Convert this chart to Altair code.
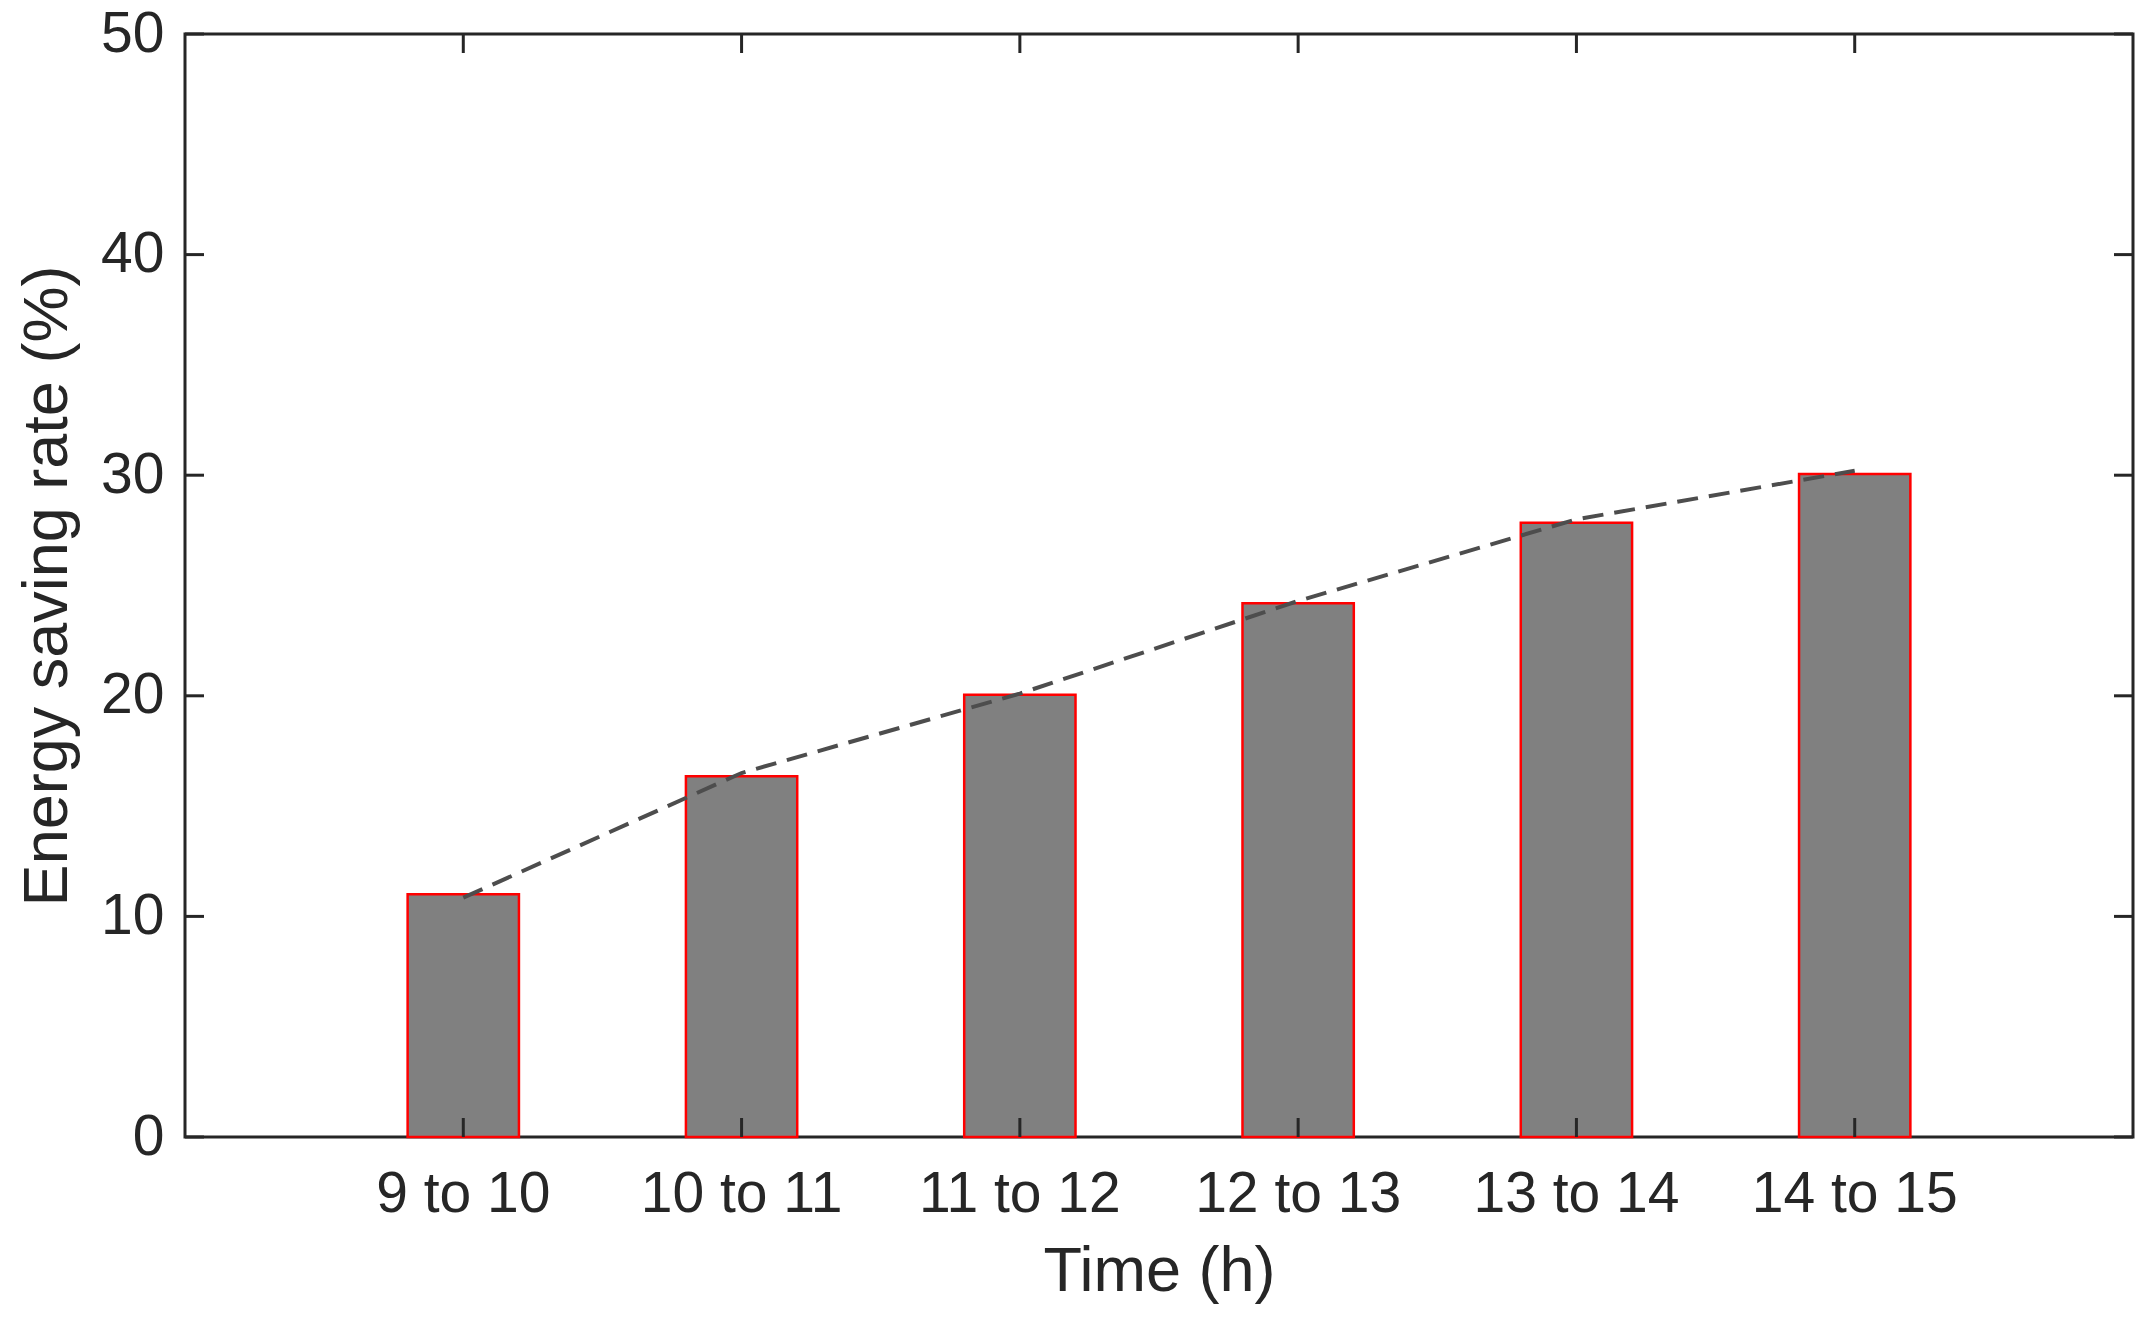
import altair as alt
import pandas as pd

# ---- data ----
times = ["9 to 10", "10 to 11", "11 to 12", "12 to 13", "13 to 14", "14 to 15"]
bar_values = [11.0, 16.35, 20.05, 24.2, 27.85, 30.05]
line_values = [10.85, 16.5, 20.1, 24.3, 28.0, 30.2]
y_tick_values = [0, 10, 20, 30, 40, 50]

W, H = 1948, 1103
TICK = 19
FONT = "Liberation Sans"
INK = "#262626"
XT = "Time (h)"
YT = "Energy saving rate (%)"

df = pd.DataFrame({"time": times, "saving": bar_values, "trend": line_values})
ydf = pd.DataFrame({"v": y_tick_values})

xscale = alt.Scale(domain=times, paddingInner=0.6, paddingOuter=0.8)
yscale = alt.Scale(domain=[0, 50], nice=False)

base = alt.Chart(df)

bars = base.mark_bar(color="#808080", stroke="#ff0000", strokeWidth=2.5).encode(
    x=alt.X("time:N", sort=times, scale=xscale, title=XT,
            axis=alt.Axis(ticks=False, tickSize=0, domain=False, grid=False,
                          labelAngle=0, labelPadding=29, labelLimit=0,
                          titlePadding=18)),
    y=alt.Y("saving:Q", scale=yscale, title=YT,
            axis=alt.Axis(values=y_tick_values, ticks=False, tickSize=0,
                          domain=False, grid=False, labelLimit=0,
                          labelPadding=21, titlePadding=21)),
)

line = base.mark_line(color="#4d4d4d", strokeWidth=4, strokeDash=[21, 11]).encode(
    x=alt.X("time:N", sort=times, scale=xscale, title=XT),
    y=alt.Y("trend:Q", scale=yscale, title=YT),
)

ytick_left = alt.Chart(ydf).mark_rule(color=INK, strokeWidth=3).encode(
    y=alt.Y("v:Q", scale=yscale, title=YT), x=alt.value(0), x2=alt.value(TICK))
ytick_right = alt.Chart(ydf).mark_rule(color=INK, strokeWidth=3).encode(
    y=alt.Y("v:Q", scale=yscale, title=YT), x=alt.value(W - TICK), x2=alt.value(W))
xtick_bottom = base.mark_rule(color=INK, strokeWidth=3).encode(
    x=alt.X("time:N", sort=times, scale=xscale, title=XT),
    y=alt.value(H), y2=alt.value(H - TICK))
xtick_top = base.mark_rule(color=INK, strokeWidth=3).encode(
    x=alt.X("time:N", sort=times, scale=xscale, title=XT),
    y=alt.value(0), y2=alt.value(TICK))

chart = alt.layer(bars, line, ytick_left, ytick_right, xtick_bottom, xtick_top).properties(
    width=W, height=H,
    autosize=alt.AutoSizeParams(type="none"),
    padding={"left": 177, "top": 26, "right": 4, "bottom": 176},
    background="white",
).configure_view(
    stroke=INK, strokeWidth=3
).configure_axis(
    labelFont=FONT, labelFontSize=57, labelColor=INK,
    titleFont=FONT, titleColor=INK, titleFontWeight="normal",
    titleFontSize=63,
)

chart.save("out.html", embed_options={"renderer": "svg", "actions": False})
